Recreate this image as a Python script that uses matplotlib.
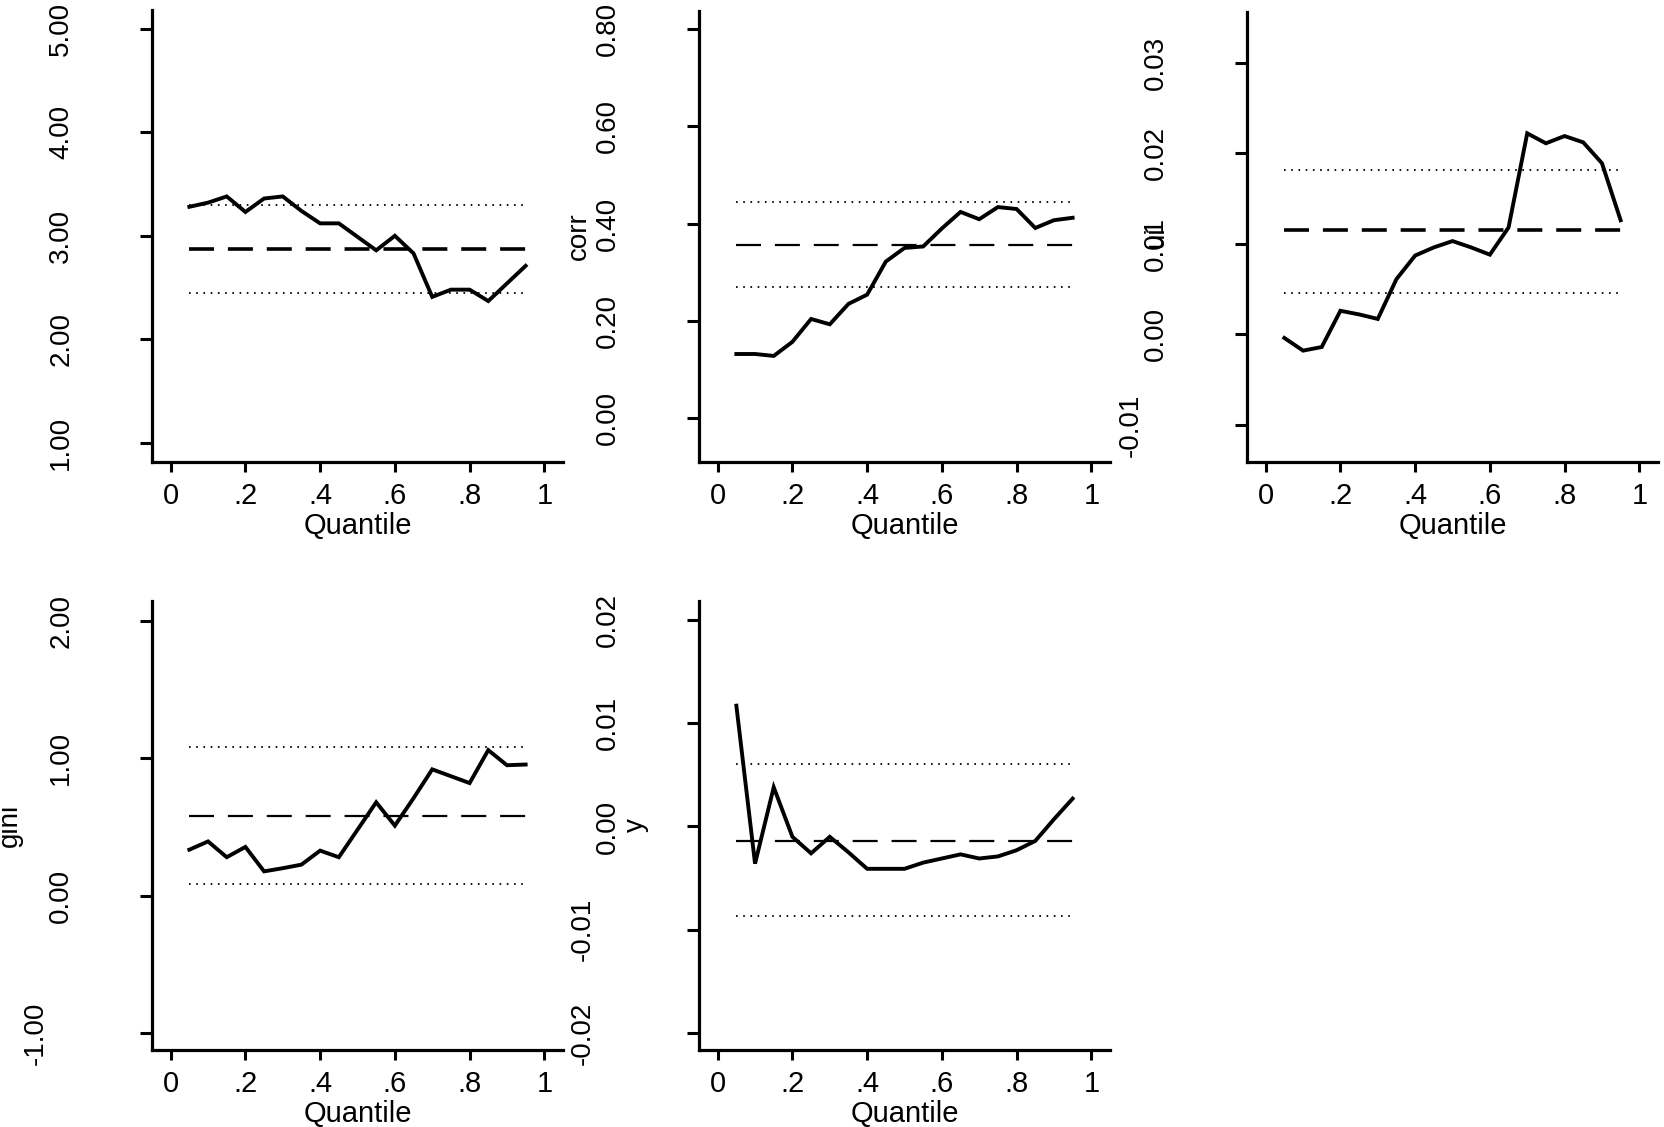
import numpy as np
import matplotlib.pyplot as plt

plt.rcParams['font.family'] = ['Liberation Sans', 'DejaVu Sans']
plt.rcParams['lines.scale_dashes'] = False

# quantiles used in every panel
quantiles = [0.05, 0.10, 0.15, 0.20, 0.25, 0.30, 0.35, 0.40, 0.45, 0.50,
             0.55, 0.60, 0.65, 0.70, 0.75, 0.80, 0.85, 0.90, 0.95]

# panel 1 (no visible label)
p1_coef = [3.28, 3.32, 3.38, 3.23, 3.36, 3.38, 3.24, 3.12, 3.12, 2.99,
           2.86, 3.00, 2.83, 2.41, 2.48, 2.48, 2.37, 2.54, 2.71]
p1_ols, p1_lo, p1_hi = 2.875, 2.45, 3.30

# corr
p2_coef = [0.132, 0.132, 0.128, 0.157, 0.204, 0.193, 0.235, 0.254, 0.322, 0.350,
           0.353, 0.390, 0.424, 0.409, 0.434, 0.430, 0.391, 0.407, 0.412]
p2_ols, p2_lo, p2_hi = 0.356, 0.269, 0.444

# panel 3
p3_coef = [-0.0004, -0.0018, -0.0014, 0.0026, 0.0022, 0.0017, 0.0061, 0.0087, 0.0096, 0.0103,
           0.0096, 0.0088, 0.0118, 0.0222, 0.0211, 0.0219, 0.0212, 0.0189, 0.0126]
p3_ols, p3_lo, p3_hi = 0.0115, 0.0046, 0.0182

# gini
p4_coef = [0.335, 0.395, 0.28, 0.355, 0.177, 0.20, 0.226, 0.328, 0.28, 0.48,
           0.68, 0.51, 0.71, 0.92, 0.87, 0.82, 1.06, 0.95, 0.955]
p4_ols, p4_lo, p4_hi = 0.583, 0.085, 1.083

# y
p5_coef = [0.0117, -0.0036, 0.0038, -0.0010, -0.0026, -0.0010, -0.0025, -0.0041, -0.0041, -0.0041,
           -0.0035, -0.0031, -0.0027, -0.0031, -0.0029, -0.0023, -0.0014, 0.0007, 0.0027]
p5_ols, p5_lo, p5_hi = -0.00136, -0.0087, 0.0061

xticks = [0, 0.2, 0.4, 0.6, 0.8, 1]
xticklabels = ['0', '.2', '.4', '.6', '.8', '1']

fig = plt.figure(figsize=(16.65, 11.27), dpi=100)

W, H = 1665, 1127


def make_axes(left, top, bottom):
    return fig.add_axes([left / W, 1 - bottom / H, 411 / W, (bottom - top) / H])


def draw_panel(ax, coef, ols, lo, hi, ylim, yticks, yfmt, ylabel, label_x, heavy):
    q = np.array(quantiles)
    ax.plot(q, coef, color='black', lw=2.8, solid_joinstyle='miter')
    dash_lw = 2.6 if heavy else 1.6
    ax.plot([q[0], q[-1]], [ols, ols], color='black', lw=dash_lw, dashes=(18, 10))
    for v in (lo, hi):
        ax.plot([q[0], q[-1]], [v, v], color='black', lw=1.3, dashes=(1.2, 4.0))
    ax.set_xlim(-0.05, 1.05)
    ax.set_ylim(*ylim)
    ax.set_xticks(xticks)
    ax.set_xticklabels(xticklabels, fontsize=21)
    ax.set_yticks(yticks)
    ax.set_yticklabels([yfmt % v if v >= 0 else ('-' + yfmt % -v) for v in yticks],
                       fontsize=20, rotation=90, va='center')
    for sp in ('top', 'right'):
        ax.spines[sp].set_visible(False)
    for sp in ('left', 'bottom'):
        ax.spines[sp].set_linewidth(2.3)
    ax.tick_params(axis='y', direction='out', length=9, width=2.2, pad=47)
    ax.tick_params(axis='x', direction='out', length=7.5, width=2.2, pad=7)
    for t, v in zip(ax.yaxis.get_major_ticks(), yticks):
        if v < 0:
            t.set_pad(65)
    ax.set_xlabel('Quantile', fontsize=21, labelpad=1)
    if ylabel:
        ax.set_ylabel(ylabel, fontsize=20)
        ax.yaxis.set_label_coords(label_x, 0.5)


ax1 = make_axes(152, 10, 462)
draw_panel(ax1, p1_coef, p1_ols, p1_lo, p1_hi, (0.816, 5.18),
           [1, 2, 3, 4, 5], '%.2f', None, 0, True)

ax2 = make_axes(699, 11, 462)
draw_panel(ax2, p2_coef, p2_ols, p2_lo, p2_hi, (-0.09, 0.837),
           [0, 0.2, 0.4, 0.6, 0.8], '%.2f', 'corr', -0.26, False)

ax3 = make_axes(1247, 12, 462)
draw_panel(ax3, p3_coef, p3_ols, p3_lo, p3_hi, (-0.0141, 0.0356),
           [-0.01, 0, 0.01, 0.02, 0.03], '%.2f', 'ui', -0.19, True)

ax4 = make_axes(152, 601, 1050)
draw_panel(ax4, p4_coef, p4_ols, p4_lo, p4_hi, (-1.124, 2.146),
           [-1, 0, 1, 2], '%.2f', 'gini', -0.314, False)

ax5 = make_axes(699, 601, 1050)
draw_panel(ax5, p5_coef, p5_ols, p5_lo, p5_hi, (-0.02165, 0.02184),
           [-0.02, -0.01, 0, 0.01, 0.02], '%.2f', 'y', -0.122, False)

fig.savefig('out.png', dpi=100)
